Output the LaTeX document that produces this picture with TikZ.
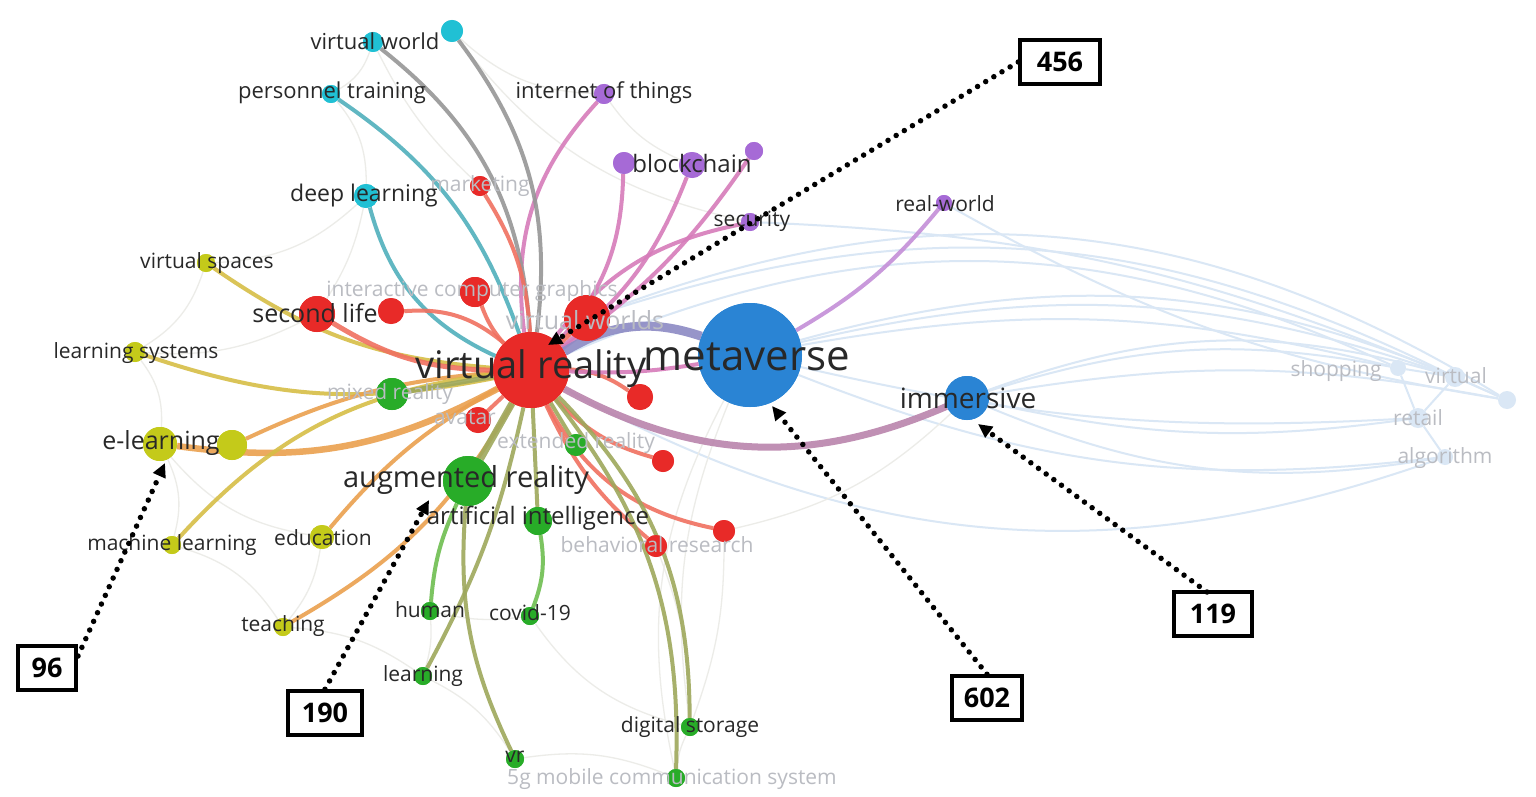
\documentclass[tikz,border=0pt]{standalone}
\usepackage{fontspec}
\setmainfont{Open Sans}
\usetikzlibrary{arrows.meta}
\definecolor{cR}{RGB}{232,42,40}
\definecolor{cB}{RGB}{42,132,212}
\definecolor{cG}{RGB}{40,172,40}
\definecolor{cY}{RGB}{196,202,26}
\definecolor{cC}{RGB}{32,192,212}
\definecolor{cP}{RGB}{166,106,214}
\definecolor{eR}{RGB}{240,112,96}
\definecolor{eO}{RGB}{234,160,78}
\definecolor{eY}{RGB}{214,190,70}
\definecolor{eC}{RGB}{80,176,188}
\definecolor{eGr}{RGB}{150,150,150}
\definecolor{eK}{RGB}{214,124,186}
\definecolor{eP}{RGB}{196,142,216}
\definecolor{eOl}{RGB}{158,168,92}
\definecolor{eG}{RGB}{110,190,80}
\definecolor{eMV}{RGB}{140,138,196}
\definecolor{eIM}{RGB}{186,132,172}
\definecolor{fB}{RGB}{218,231,245}
\definecolor{fW}{RGB}{236,236,232}
\definecolor{lblc}{RGB}{40,40,40}
\definecolor{fnt}{RGB}{186,188,194}
\tikzset{
  nR/.style={circle,inner sep=0pt,fill=cR,minimum size=#1},
  nB/.style={circle,inner sep=0pt,fill=cB,minimum size=#1},
  nG/.style={circle,inner sep=0pt,fill=cG,minimum size=#1},
  nY/.style={circle,inner sep=0pt,fill=cY,minimum size=#1},
  nC/.style={circle,inner sep=0pt,fill=cC,minimum size=#1},
  nP/.style={circle,inner sep=0pt,fill=cP,minimum size=#1},
  nF/.style={circle,inner sep=0pt,fill=fB,minimum size=#1},
  lbl/.style={text=lblc,inner sep=0pt,font=\fontsize{21}{23}\selectfont},
  flbl/.style={text=fnt,inner sep=0pt,font=\fontsize{21}{23}\selectfont},
  ed/.style={line width=#1,opacity=0.9},
  faintB/.style={fB,line width=2pt},
  faintW/.style={fW,line width=1.3pt},
  numbox/.style={draw=black,line width=3.5pt,inner sep=0pt,minimum height=44pt,font=\fontsize{27}{30}\selectfont\bfseries},
  dotarrow/.style={line width=5.5pt,line cap=round,dash pattern=on 0pt off 9.5pt,-{Triangle[length=14pt,width=13pt]}},
}
\begin{document}
\begin{tikzpicture}[x=1pt,y=-1pt]
\useasboundingbox (0,0) rectangle (1536,797);
\fill[white] (0,0) rectangle (1536,797);

% ---------- node positions ----------
\node[nB=44] (im) at (967,398) {};
\node[nR=76] (vr) at (531,370) {};
\node[nB=104] (mv) at (750,355) {};
\node[nR=46] (vws) at (587,318) {};
\node[nR=36] (sl) at (317,314) {};
\node[nR=26] (r1) at (391,311) {};
\node[nR=30] (r2) at (475,292) {};
\node[nR=20] (mk) at (480,186) {};
\node[nR=26] (r3) at (640,397) {};
\node[nR=26] (av) at (478,420) {};
\node[nR=22] (r4) at (663,461) {};
\node[nR=22] (br) at (656,546) {};
\node[nR=22] (r5) at (724,531) {};
\node[nG=32] (mr) at (392,394) {};
\node[nG=22] (xr) at (576,445) {};
\node[nG=50] (ar) at (468,481) {};
\node[nG=28] (ai) at (538,521) {};
\node[nG=18] (hu) at (430,611) {};
\node[nG=18] (cv) at (530,616) {};
\node[nG=18] (le) at (423,676) {};
\node[nG=18] (vrs) at (515,759) {};
\node[nG=18] (ds) at (690,727) {};
\node[nG=18] (fg) at (676,778) {};
\node[nY=34] (el) at (160,444) {};
\node[nY=30] (y2) at (232,445) {};
\node[nY=18] (vsp) at (206,263) {};
\node[nY=20] (ls) at (135,352) {};
\node[nY=18] (ml) at (172,545) {};
\node[nY=24] (ed) at (322,537) {};
\node[nY=18] (te) at (283,627) {};
\node[nC=20] (vw) at (373,42) {};
\node[nC=22] (c2) at (452,31) {};
\node[nC=18] (pt) at (331,94) {};
\node[nC=24] (dl) at (366,196) {};
\node[nP=20] (iot) at (604,94) {};
\node[nP=22] (p1) at (624,163) {};
\node[nP=26] (bc) at (692,165) {};
\node[nP=18] (p2) at (754,151) {};
\node[nP=18] (se) at (750,222) {};
\node[nP=16] (rw) at (944,203) {};
\node[nF=16] (sh) at (1398,368) {};
\node[nF=20] (vi) at (1455,377) {};
\node[nF=18] (e5) at (1507,400) {};
\node[nF=20] (rt) at (1418,418) {};
\node[nF=16] (al) at (1445,457) {};

% ---------- faint background edges ----------
\foreach \a/\b/\c in {mv/sh/12,mv/vi/16,mv/e5/20,mv/rt/-8,mv/al/-14,im/sh/14,im/vi/18,im/rt/-10,im/al/-16,im/e5/10,vws/vi/22,vws/e5/26,vr/sh/24,vr/al/-24,se/vi/10,rw/e5/-10,sh/rt/0,vi/rt/0,rt/al/0,vi/e5/0,sh/vi/0}
  {\draw[faintB] (\a) to[bend left=\c] (\b);}
\foreach \a/\b/\c in {vsp/ls/20,ls/el/20,el/ml/20,ml/te/20,te/le/15,le/vrs/15,vrs/fg/15,fg/ds/10,ds/cv/20,cv/hu/10,vw/pt/20,pt/dl/20,dl/vsp/20,c2/iot/-20,iot/bc/-15,ed/te/15,hu/le/10,br/ds/10,r5/ds/10,mv/fg/-20,mv/ds/-15,im/r5/15,vw/mk/-10,c2/se/-20,dl/sl/10,el/ed/-20,ls/sl/-15}
  {\draw[faintW] (\a) to[bend left=\c] (\b);}

% ---------- coloured edges ----------
\draw[ed=4pt,eK] (vr) to[bend left=25] (iot);
\draw[ed=4pt,eK] (vr) to[bend right=20] (p1);
\draw[ed=4pt,eK] (vr) to[bend right=15] (bc);
\draw[ed=4pt,eK] (vr) to[bend right=10] (p2);
\draw[ed=4pt,eK] (vr) to[bend left=20] (se);
\draw[ed=4pt,eP] (mv) to[bend right=10] (rw);
\draw[ed=4pt,eGr] (vr) to[bend right=22] (c2);
\draw[ed=4pt,eGr] (vr) to[bend right=24] (vw);
\draw[ed=4pt,eC] (vr) to[bend right=18] (pt);
\draw[ed=4pt,eC] (vr) to[bend left=25] (dl);
\draw[ed=4pt,eR] (vr) to[bend right=14] (mk);
\draw[ed=4pt,eY] (vr) to[bend left=15] (vsp);
\draw[ed=4pt,eY] (vr) to[bend left=15] (ls);
\draw[ed=6.5pt,eO] (vr) to[bend left=18] (el);
\draw[ed=4pt,eO] (vr) to[bend right=10] (y2);
\draw[ed=4pt,eY] (vr) to[bend right=20] (ml);
\draw[ed=4pt,eO] (vr) to[bend right=10] (ed);
\draw[ed=4pt,eO] (vr) to[bend left=15] (te);
\draw[ed=5pt,eR] (vr) to[bend left=15] (sl);
\draw[ed=4pt,eR] (vr) to[bend right=22] (r1);
\draw[ed=4pt,eR] (vr) to[bend left=10] (r2);
\draw[ed=5pt,eR] (vr) to (vws);
\draw[ed=4pt,eR] (vr) to[bend left=15] (r3);
\draw[ed=4pt,eR] (vr) to[bend right=15] (r4);
\draw[ed=4pt,eR] (vr) to[bend right=25] (r5);
\draw[ed=4pt,eR] (vr) to[bend right=12] (br);
\draw[ed=4pt,eR] (vr) to (av);
\draw[ed=5pt,eOl] (vr) to (mr);
\draw[ed=4pt,eOl] (vr) to (xr);
\draw[ed=7pt,eOl] (vr) to (ar);
\draw[ed=4pt,eOl] (vr) to (ai);
\draw[ed=4pt,eOl] (vr) to[bend left=22] (ds);
\draw[ed=4pt,eOl] (vr) to[bend left=20] (fg);
\draw[ed=4pt,eOl] (ar) to[bend right=15] (vrs);
\draw[ed=4pt,eG] (ar) to[bend right=10] (hu);
\draw[ed=4pt,eOl] (vr) to[bend left=8] (le);
\draw[ed=4pt,eG] (ai) to[bend left=15] (cv);
\draw[ed=9pt,eMV] (vr) to[bend left=25] (mv);
\draw[ed=4pt,eK] (vr) to[bend right=6] (mv);
\draw[ed=7pt,eIM] (vr) to[bend right=26] (im);

% ---------- node discs drawn again above edges ----------
\foreach \n/\s/\r in {vr/nR/76,mv/nB/104,im/nB/44,vws/nR/46,sl/nR/36,r1/nR/26,r2/nR/30,mk/nR/20,r3/nR/26,av/nR/26,r4/nR/22,br/nR/22,r5/nR/22,mr/nG/32,xr/nG/22,ar/nG/50,ai/nG/28,hu/nG/18,cv/nG/18,le/nG/18,vrs/nG/18,ds/nG/18,fg/nG/18,el/nY/34,y2/nY/30,vsp/nY/18,ls/nY/20,ml/nY/18,ed/nY/24,te/nY/18,vw/nC/20,c2/nC/22,pt/nC/18,dl/nC/24,iot/nP/20,p1/nP/22,bc/nP/26,p2/nP/18,se/nP/18,rw/nP/16}
  {\node[\s=\r] at (\n) {};}

% ---------- labels ----------
\node[flbl] (l-mk) at (480,186) {marketing};
\node[flbl] (l-icg) at (472,291) {interactive computer graphics};
\node[flbl,font=\fontsize{25}{27}\selectfont] (l-vws) at (585,320) {virtual worlds};
\node[flbl] (l-mr) at (390,394) {mixed reality};
\node[flbl] (l-av) at (465,418) {avatar};
\node[flbl] (l-xr) at (576,443) {extended reality};
\node[flbl] (l-br) at (657,545) {behavioral research};
\node[flbl] (l-fg) at (672,779) {5g mobile communication system};
\node[flbl] (l-sh) at (1336,371) {shopping};
\node[flbl] (l-vi) at (1456,376) {virtual};
\node[flbl] (l-rt) at (1418,418) {retail};
\node[flbl] (l-al) at (1445,458) {algorithm};

\node[lbl,font=\fontsize{22}{24}\selectfont] (l-vw) at (375,41) {virtual world};
\node[lbl,font=\fontsize{22}{24}\selectfont] (l-pt) at (332,93) {personnel training};
\node[lbl,font=\fontsize{22}{24}\selectfont] (l-iot) at (604,93) {internet of things};
\node[lbl,font=\fontsize{24}{26}\selectfont] (l-bc) at (692,163) {blockchain};
\node[lbl,font=\fontsize{23}{25}\selectfont] (l-dl) at (364,196) {deep learning};
\node[lbl] (l-se) at (752,221) {security};
\node[lbl] (l-rw) at (945,204) {real-world};
\node[lbl] (l-vsp) at (207,263) {virtual spaces};
\node[lbl,font=\fontsize{25}{27}\selectfont] (l-sl) at (315,313) {second life};
\node[lbl,font=\fontsize{38}{40}\selectfont] (l-vr) at (531,369) {virtual reality};
\node[lbl,font=\fontsize{42}{44}\selectfont] (l-mv) at (747,357) {metaverse};
\node[lbl] (l-ls) at (136,353) {learning systems};
\node[lbl,font=\fontsize{28}{30}\selectfont] (l-im) at (968,398) {immersive};
\node[lbl,font=\fontsize{25}{27}\selectfont] (l-el) at (161,443) {e-learning};
\node[lbl,font=\fontsize{29}{31}\selectfont] (l-ar) at (466,480) {augmented reality};
\node[lbl,font=\fontsize{24}{26}\selectfont] (l-ai) at (538,518) {artificial intelligence};
\node[lbl] (l-ml) at (172,545) {machine learning};
\node[lbl] (l-ed) at (323,538) {education};
\node[lbl] (l-te) at (283,626) {teaching};
\node[lbl] (l-hu) at (430,610) {human};
\node[lbl] (l-cv) at (530,613) {covid-19};
\node[lbl] (l-le) at (423,676) {learning};
\node[lbl] (l-ds) at (690,727) {digital storage};
\node[lbl] (l-vrs) at (515,757) {vr};

% ---------- number boxes and pointers ----------
\node[numbox,minimum width=80pt] (b456) at (1060,62) {456};
\node[numbox,minimum width=58pt] (b96) at (47,668) {96};
\node[numbox,minimum width=74pt] (b190) at (325,713) {190};
\node[numbox,minimum width=70pt] (b602) at (987,698) {602};
\node[numbox,minimum width=78pt] (b119) at (1213,614) {119};
\coordinate (t456) at (548,345);
\coordinate (t96) at (165,463);
\coordinate (t190) at (429,500);
\coordinate (t602) at (772,406);
\coordinate (t119) at (978,424);
\coordinate (s96) at (78,656);
\coordinate (s119) at (1207,592);
\draw[dotarrow] (b456.west) -- (t456);
\draw[dotarrow] (s96) -- (t96);
\draw[dotarrow] (b190.north) -- (t190);
\draw[dotarrow] (b602.north) -- (t602);
\draw[dotarrow] (s119) -- (t119);
\end{tikzpicture}
\end{document}
